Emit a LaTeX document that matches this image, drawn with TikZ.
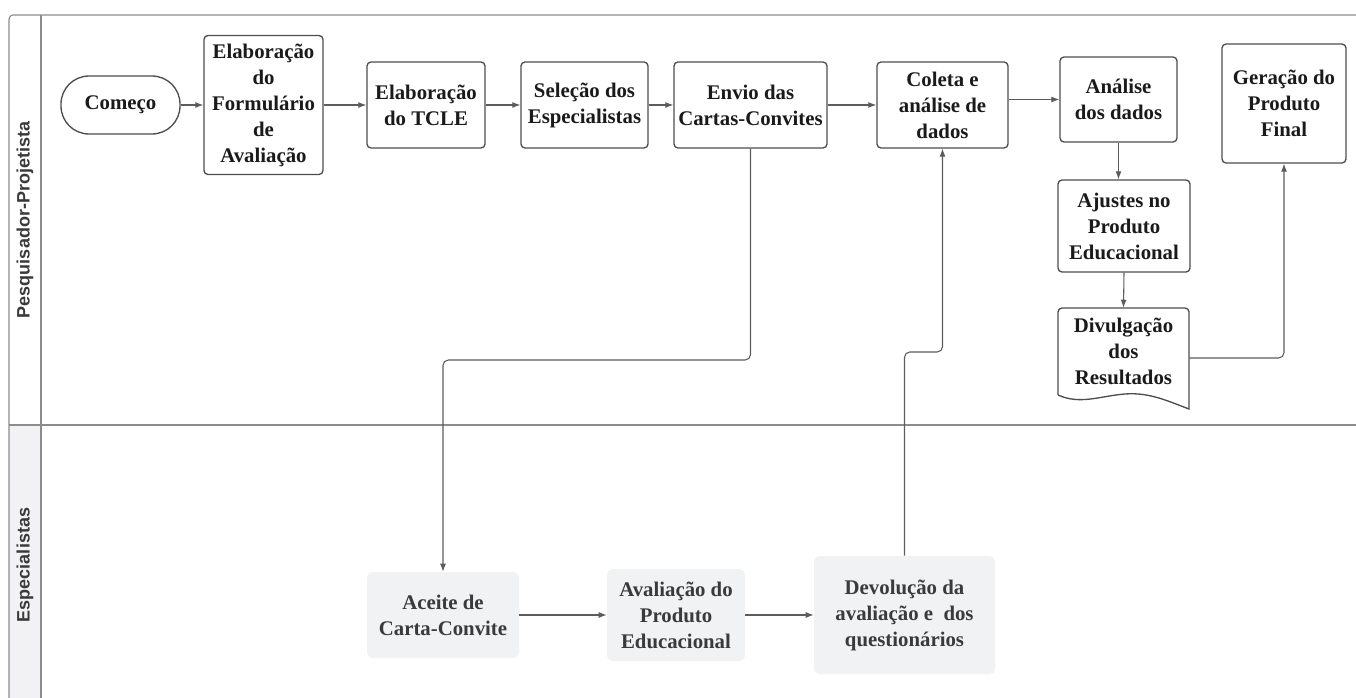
\documentclass[tikz,border=0pt]{standalone}
\usepackage{fontspec}
\setmainfont{Liberation Serif}
\newfontfamily\lanefont{Liberation Sans}
\usetikzlibrary{arrows.meta,calc}
\definecolor{nodeborder}{HTML}{4D4D4D}
\definecolor{connline}{HTML}{5C5C5C}
\definecolor{framecol}{HTML}{8C8C8C}
\definecolor{lanefill}{HTML}{F2F2F4}
\definecolor{softfill}{HTML}{F1F2F4}
\definecolor{softtext}{HTML}{3A3A3A}
\definecolor{maintext}{HTML}{1A1A1A}
\tikzset{
  procbox/.style={draw=nodeborder, line width=1pt, fill=white, rounded corners=3pt,
    align=center, inner sep=0pt, text=maintext,
    font=\bfseries\fontsize{15.6}{19.5}\selectfont},
  startbox/.style={procbox, rounded corners=21pt},
  softbox/.style={draw=none, fill=softfill, rounded corners=4pt,
    align=center, inner sep=0pt, text=softtext,
    font=\bfseries\fontsize{15.6}{19.5}\selectfont},
  txtonly/.style={align=center, inner sep=0pt, text=maintext,
    font=\bfseries\fontsize{15.6}{19.5}\selectfont},
  conn/.style={draw=connline, line width=0.8pt, -{Latex[length=6pt,width=4.5pt]}},
  framel/.style={draw=framecol, line width=0.8pt},
  lanelabel/.style={rotate=90, text=softtext, font=\lanefont\bfseries\fontsize{13.5}{16}\selectfont}
}
\begin{document}
\begin{tikzpicture}[x=0.75pt,y=-0.75pt]
\useasboundingbox (0,0) rectangle (1356,698);
% lanes
\fill[lanefill] (9,425) rectangle (41,710);
\draw[framel] (1356,15) -- (13,15) to[out=180,in=90] (9,19) -- (9,710);
\draw[framel] (41,15) -- (41,710);
\draw[framel] (9,425) -- (1356,425);
\node[lanelabel] (lane1) at (25,220) {Pesquisador-Projetista};
\node[lanelabel] (lane2) at (25,565) {Especialistas};

% top lane nodes
\node[startbox, minimum width=119*0.75pt, minimum height=58*0.75pt] (comeco) at (120.5,105) {Começo};
\node[procbox, minimum width=119*0.75pt, minimum height=139*0.75pt] (form) at (263.5,105) {Elaboração\\do\\Formulário\\de\\Avaliação};
\node[procbox, minimum width=118*0.75pt, minimum height=86*0.75pt] (tcle) at (426,105) {Elaboração\\do TCLE};
\node[procbox, minimum width=127*0.75pt, minimum height=86*0.75pt] (selecao) at (584.5,105) {Seleção dos\\Especialistas};
\node[procbox, minimum width=153*0.75pt, minimum height=86*0.75pt] (envio) at (750.5,105) {Envio das\\Cartas-Convites};
\node[procbox, minimum width=131*0.75pt, minimum height=86*0.75pt] (coleta) at (942.5,105) {Coleta e\\análise de\\dados};
\node[procbox, minimum width=117*0.75pt, minimum height=85*0.75pt] (analise) at (1118.5,99.5) {Análise\\dos dados};
\node[procbox, minimum width=124*0.75pt, minimum height=119*0.75pt] (geracao) at (1284,103.5) {Geração do\\Produto\\Final};
\node[procbox, minimum width=132*0.75pt, minimum height=92*0.75pt] (ajustes) at (1124,226) {Ajustes no\\Produto\\Educacional};

% document shape
\draw[draw=nodeborder, line width=1pt, fill=white]
  (1058,395) -- (1058,312) to[out=90,in=180] (1062,308) -- (1185,308) to[out=0,in=90] (1189,312)
  -- (1189,409) .. controls (1170,402) and (1150,392) .. (1125,394)
  .. controls (1100,396) and (1080,405) .. (1058,395);
\node[txtonly, minimum width=131*0.75pt, minimum height=87*0.75pt] (divulg) at (1123.5,351.5) {Divulgação\\dos\\Resultados};

% bottom lane nodes
\node[softbox, minimum width=152*0.75pt, minimum height=86*0.75pt] (aceite) at (443,615) {Aceite de\\Carta-Convite};
\node[softbox, minimum width=138*0.75pt, minimum height=92*0.75pt] (avaliacao) at (676,615) {Avaliação do\\Produto\\Educacional};
\node[softbox, minimum width=181*0.75pt, minimum height=118*0.75pt] (devol) at (904.5,615) {Devolução da\\avaliação e\ \ dos\\questionários};

% connectors top lane
\draw[conn] (comeco.east) -- (form.west);
\draw[conn] (form.east) -- (tcle.west);
\draw[conn] (tcle.east) -- (selecao.west);
\draw[conn] (selecao.east) -- (envio.west);
\draw[conn] (envio.east) -- (coleta.west);
\draw[conn] (coleta.east |- analise.west) -- (analise.west);
\draw[conn] (analise.south) -- (analise.south |- ajustes.north);
\draw[conn] (ajustes.south) -- (divulg.north);
\draw[conn, rounded corners=4pt] ($(divulg.east)+(0,6.5)$) -| (geracao.south);

% cross-lane connectors
\draw[conn, rounded corners=4pt] (envio.south) -- (envio.south |- 0,360) -| (aceite.north);
\draw[conn, rounded corners=4pt] (devol.north) -- (devol.north |- 0,352) -| (coleta.south);

% bottom lane connectors
\draw[conn] (aceite.east) -- (avaliacao.west);
\draw[conn] (avaliacao.east) -- (devol.west);
\end{tikzpicture}
\end{document}
